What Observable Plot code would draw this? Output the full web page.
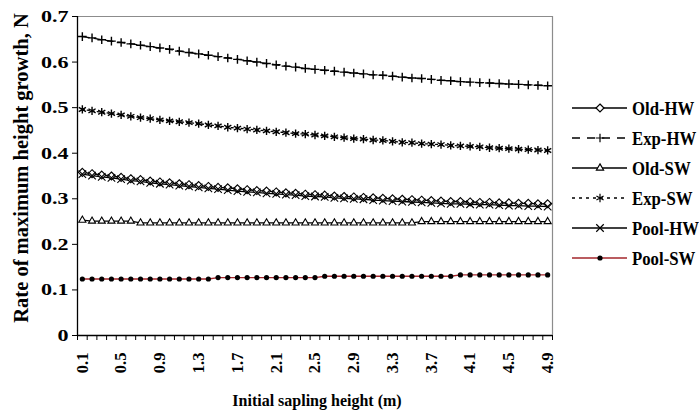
<!DOCTYPE html>
<html><head><meta charset="utf-8">
<script src="https://cdn.jsdelivr.net/npm/d3@7"></script>
<script src="https://cdn.jsdelivr.net/npm/@observablehq/plot@0.6"></script>
<style>body{margin:0;background:#fff}#chart{width:699px;height:410px;overflow:hidden}</style>
</head><body><div id="chart"></div>
<script>
// ---- data ----
const heights = [0.1,0.2,0.3,0.4,0.5,0.6,0.7,0.8,0.9,1.0,1.1,1.2,1.3,1.4,1.5,1.6,1.7,1.8,1.9,2.0,2.1,2.2,2.3,2.4,2.5,2.6,2.7,2.8,2.9,3.0,3.1,3.2,3.3,3.4,3.5,3.6,3.7,3.8,3.9,4.0,4.1,4.2,4.3,4.4,4.5,4.6,4.7,4.8,4.9];
const oldHW = [.358,.355,.352,.350,.347,.344,.342,.339,.337,.335,.333,.331,.329,.327,.325,.324,.322,.320,.318,.317,.315,.313,.312,.310,.309,.308,.306,.305,.304,.303,.302,.301,.300,.299,.298,.297,.296,.295,.294,.294,.293,.292,.292,.291,.291,.290,.290,.289,.289];
const expHW = [.656,.653,.649,.646,.643,.640,.637,.634,.631,.628,.624,.621,.618,.615,.612,.609,.606,.603,.600,.597,.594,.591,.589,.586,.584,.582,.580,.578,.576,.574,.572,.571,.569,.567,.565,.564,.562,.560,.559,.557,.556,.555,.554,.553,.552,.551,.550,.549,.548];
const oldSW = [.253,.251,.251,.251,.251,.251,.247,.247,.247,.247,.247,.247,.247,.247,.247,.247,.247,.247,.247,.247,.247,.247,.247,.247,.247,.247,.247,.247,.247,.247,.247,.247,.247,.247,.247,.250,.250,.250,.250,.250,.250,.250,.250,.250,.250,.250,.250,.250,.250];
const expSW = [.496,.493,.490,.487,.484,.481,.478,.476,.473,.471,.469,.467,.465,.462,.460,.457,.455,.453,.451,.449,.447,.445,.443,.442,.440,.438,.436,.434,.432,.431,.429,.428,.426,.424,.423,.421,.420,.419,.417,.416,.415,.414,.412,.411,.410,.409,.408,.407,.406];
const poolHW = [.354,.351,.348,.346,.343,.340,.338,.335,.333,.331,.329,.327,.325,.323,.321,.319,.317,.315,.314,.312,.311,.309,.308,.306,.305,.304,.302,.301,.300,.299,.297,.296,.295,.294,.293,.292,.291,.290,.289,.289,.288,.287,.287,.286,.285,.285,.284,.284,.283];
const poolSW = [.124,.124,.124,.124,.124,.124,.124,.124,.124,.124,.124,.124,.124,.124,.127,.127,.127,.127,.127,.127,.127,.127,.127,.127,.127,.130,.130,.130,.130,.130,.130,.130,.130,.130,.130,.130,.130,.130,.130,.133,.133,.133,.133,.133,.133,.133,.133,.133,.133];
const seriesNames = ["Old-HW","Exp-HW","Old-SW","Exp-SW","Pool-HW","Pool-SW"];
const seriesValues = [oldHW, expHW, oldSW, expSW, poolHW, poolSW];
const xTickLabels = [0.1,0.5,0.9,1.3,1.7,2.1,2.5,2.9,3.3,3.7,4.1,4.5,4.9];
const yTicks = [0,0.1,0.2,0.3,0.4,0.5,0.6,0.7];
const xTitle = "Initial sapling height (m)";
const yTitle = "Rate of maximum height growth, N";

// ---- styles ----
const styles = {
  "Old-HW":  {symbol: "diamond2", r: 3.6, fill: "white", dotStroke: "black", line: "black", dash: null},
  "Exp-HW":  {symbol: "plus", r: 2.9, fill: "none", dotStroke: "black", line: "black", dash: "7,5"},
  "Old-SW":  {symbol: "triangle2", r: 3.4, fill: "white", dotStroke: "black", line: "black", dash: null},
  "Exp-SW":  {symbol: "asterisk", r: 3.9, fill: "none", dotStroke: "black", line: "black", dash: "2,3"},
  "Pool-HW": {symbol: "times", r: 3.5, fill: "none", dotStroke: "black", line: "black", dash: null},
  "Pool-SW": {symbol: "circle", r: 2.6, fill: "black", dotStroke: "none", line: "#a3262b", dash: null}
};

const table = seriesNames.map((name, k) => heights.map((h, i) => ({h, v: seriesValues[k][i], s: name})));
const half = 0.05;
const boundaries = heights.map(h => +(h - half).toFixed(2)).concat([+(heights[heights.length - 1] + half).toFixed(2)]);
const xDomain = [boundaries[0], boundaries[boundaries.length - 1]];

const marks = [
  Plot.ruleY([yTicks[yTicks.length - 1]], {stroke: "#8c8c8c", strokeWidth: 1.2}),
  Plot.ruleX([xDomain[1]], {stroke: "#8c8c8c", strokeWidth: 1.2})
];
seriesNames.forEach((name, k) => {
  const st = styles[name];
  marks.push(Plot.line(table[k], {x: "h", y: "v", stroke: st.line, strokeWidth: 1.3, strokeDasharray: st.dash}));
});
seriesNames.forEach((name, k) => {
  const st = styles[name];
  marks.push(Plot.dot(table[k], {x: "h", y: "v", symbol: () => st.symbol, r: st.r, fill: st.fill, stroke: st.dotStroke, strokeWidth: (name === "Exp-HW" || name === "Exp-SW") ? 1.4 : 1.1}));
});
marks.push(
  Plot.ruleX([xDomain[0]], {stroke: "black", strokeWidth: 1.3}),
  Plot.ruleY([0], {stroke: "black", strokeWidth: 1.3}),
  Plot.axisY(yTicks, {tickSize: 5, tickPadding: 4, fontSize: 17, fontWeight: "bold", tickFormat: d => d === 0 ? "0" : d.toFixed(1)}),
  Plot.axisX(boundaries, {tickSize: 5, tickFormat: () => ""}),
  Plot.axisX(xTickLabels, {tickSize: 0, tickRotate: -90, tickPadding: 17, fontSize: 16.5, fontWeight: "bold", tickFormat: d => d.toFixed(1)})
);

const chart = Plot.plot({
  width: 699, height: 410,
  marginLeft: 77, marginRight: 147, marginTop: 16, marginBottom: 75,
  x: {domain: xDomain, label: null},
  y: {domain: [0, 0.7], label: null},
  style: {fontFamily: "'Liberation Serif', 'Times New Roman', serif", fontWeight: "bold", fontSize: "16px", color: "black", background: "white"},
  marks
});
document.getElementById("chart").appendChild(chart);

const svg = d3.select(chart);
// widen y tick labels like the reference
svg.selectAll('g[aria-label="y-axis tick label"] text').each(function () {
  const t = d3.select(this);
  const tr = t.attr("transform") || "";
  t.attr("transform", tr + " scale(1.3,1)");
});
svg.append("text").attr("transform", "translate(28,168) rotate(-90)").attr("text-anchor", "middle")
  .style("font-size", "20.5px").style("font-weight", "bold").attr("fill", "black").text(yTitle);
svg.append("text").attr("x", 317).attr("y", 406).attr("text-anchor", "middle")
  .style("font-size", "16px").style("font-weight", "bold").attr("fill", "black").text(xTitle);

// legend
const lg = svg.append("g");
const symMap = {diamond2: d3.symbolDiamond2, plus: d3.symbolPlus, triangle2: d3.symbolTriangle2, asterisk: d3.symbolAsterisk, times: d3.symbolTimes, circle: d3.symbolCircle};
seriesNames.forEach((name, k) => {
  const st = styles[name];
  const y = 108 + k * 30;
  lg.append("line").attr("x1", 572).attr("x2", 627).attr("y1", y).attr("y2", y)
    .attr("stroke", st.line).attr("stroke-width", 1.6).attr("stroke-dasharray", st.dash ? (name === "Exp-HW" ? "8,7" : "3,4") : null);
  lg.append("path").attr("transform", `translate(600,${y})`)
    .attr("d", d3.symbol(symMap[st.symbol], st.r * st.r * Math.PI)())
    .attr("fill", st.fill === "none" ? "none" : st.fill).attr("stroke", st.dotStroke === "none" ? null : st.dotStroke).attr("stroke-width", 1.2);
  lg.append("text").attr("transform", `translate(632,${y}) scale(0.86,1)`).attr("dy", "0.35em").attr("text-anchor", "start")
    .style("font-size", "19.5px").style("font-weight", "bold").attr("fill", "black").text(name);
});
</script></body></html>
